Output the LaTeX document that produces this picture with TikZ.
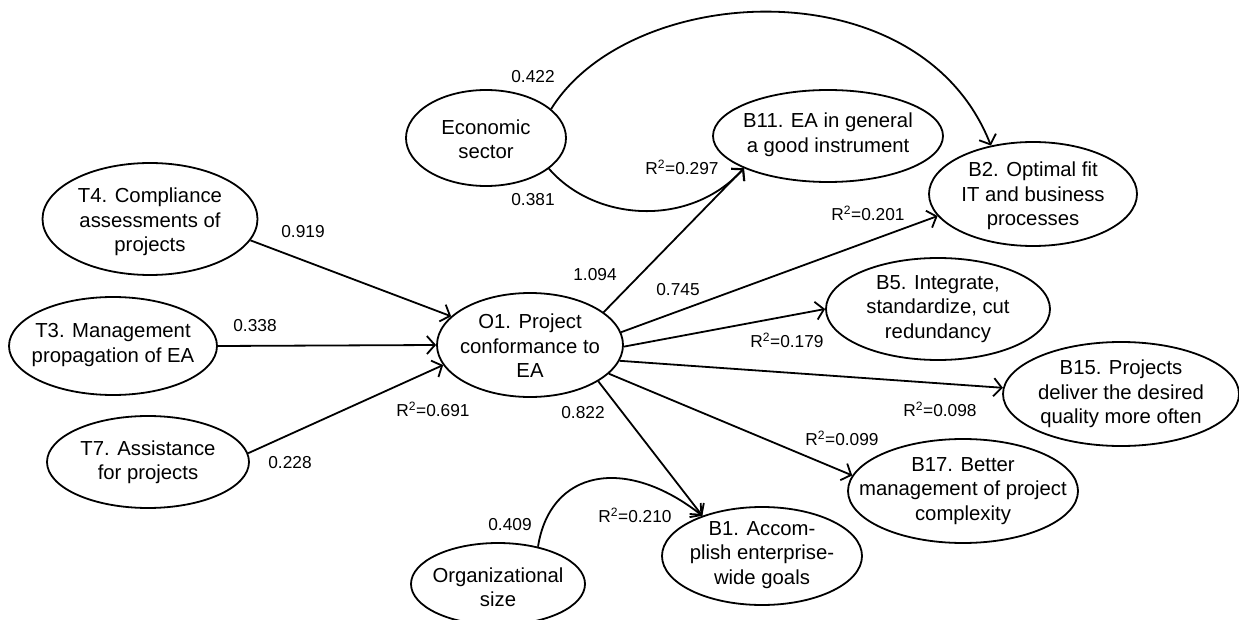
\documentclass[tikz,border=0pt]{standalone}
\usepackage{fontspec}
\setmainfont{Liberation Sans}
\usetikzlibrary{shapes.geometric,arrows.meta}
\newcommand{\ndfont}{\fontsize{20.3}{24.5}\selectfont}
\newcommand{\lbfont}{\fontsize{17.3}{20}\selectfont}
\newcommand{\Rsq}[1]{R\textsuperscript{2}=#1}
\tikzset{
  ell/.style={draw, ellipse, line width=1.8pt, inner sep=0pt},
  txt/.style={font=\ndfont, align=center, inner sep=0pt},
  lbl/.style={font=\lbfont, inner sep=0pt},
  arr/.style={line width=1.8pt, -{Straight Barb[length=8pt,width=18pt]}}
}
\begin{document}
\begin{tikzpicture}[x=1pt,y=-1pt]
\useasboundingbox[fill=white] (0,0) rectangle (1239,620);
% ellipses
\node[ell, minimum width=160pt, minimum height=96pt] (Econ) at (486,138) {};
\node[ell, minimum width=230pt, minimum height=92pt] (B11) at (828,136) {};
\node[ell, minimum width=208pt, minimum height=104pt] (B2) at (1033,194) {};
\node[ell, minimum width=224pt, minimum height=102pt] (B5) at (938,309) {};
\node[ell, minimum width=236pt, minimum height=104pt] (B15) at (1121,394) {};
\node[ell, minimum width=230pt, minimum height=104pt] (B17) at (963,491) {};
\node[ell, minimum width=200pt, minimum height=98pt] (B1) at (762,556) {};
\node[ell, minimum width=174pt, minimum height=82pt] (Org) at (498,584) {};
\node[ell, minimum width=186pt, minimum height=104pt] (O1) at (530,345) {};
\node[ell, minimum width=215pt, minimum height=112pt] (T4) at (150,219) {};
\node[ell, minimum width=208pt, minimum height=98pt] (T3) at (113,346) {};
\node[ell, minimum width=202pt, minimum height=92pt] (T7) at (148,462) {};
% texts
\node[txt] (EconT) at (486,139) {Economic\\sector};
\node[txt] (B11T) at (828,135) {B11. EA in general\\a good instrument};
\node[txt] (B2T) at (1033,196) {B2. Optimal fit\\IT and business\\processes};
\node[txt] (B5T) at (938,309) {B5. Integrate,\\standardize, cut\\redundancy};
\node[txt] (B15T) at (1121,394) {B15. Projects\\deliver the desired\\quality more often};
\node[txt] (B17T) at (963,491) {B17. Better\\management of project\\complexity};
\node[txt] (B1T) at (762,555) {B1. Accom-\\plish enterprise-\\wide goals};
\node[txt] (OrgT) at (498,587) {Organizational\\size};
\node[txt] (O1T) at (530,346) {O1. Project\\conformance to\\EA};
\node[txt] (T4T) at (150,222) {T4. Compliance\\assessments of\\projects};
\node[txt] (T3T) at (113,345) {T3. Management\\propagation of EA};
\node[txt] (T7T) at (148,462) {T7. Assistance\\for projects};
% connectors
\draw[arr] (T4.-12) -- (O1.160);
\draw[arr] (T3.0) -- (O1.180);
\draw[arr] (T7.5) -- (O1.193);
\draw[arr] (O1.24) -- (B11.201);
\draw[arr] (O1.8) -- (B2.193);
\draw[arr] (O1.-1) -- (B5.180);
\draw[arr] (O1.-10) -- (B15.177);
\draw[arr] (O1.-20) -- (B17.172);
\draw[arr] (O1.-28) -- (B1.146);
\draw[arr] (Econ.24) .. controls (630,-18) and (920,-35) .. (B2.131);
\draw[arr] (Econ.-26) .. controls (595,222) and (690,228) .. (B11.201);
\draw[arr] (Org.43) .. controls (550,470) and (625,455) .. (B1.146);
% labels
\node[lbl] (l422) at (533,77) {0.422};
\node[lbl] (l381) at (533,200) {0.381};
\node[lbl] (r297) at (682,167) {\Rsq{0.297}};
\node[lbl] (l1094) at (595,275) {1.094};
\node[lbl] (l745) at (678,290) {0.745};
\node[lbl] (r201) at (868,213) {\Rsq{0.201}};
\node[lbl] (r179) at (787,340) {\Rsq{0.179}};
\node[lbl] (r098) at (940,409) {\Rsq{0.098}};
\node[lbl] (r099) at (842,438) {\Rsq{0.099}};
\node[lbl] (l822) at (583,413) {0.822};
\node[lbl] (r210) at (635,515) {\Rsq{0.210}};
\node[lbl] (l409) at (510,525) {0.409};
\node[lbl] (r691) at (433,409) {\Rsq{0.691}};
\node[lbl] (l919) at (303,232) {0.919};
\node[lbl] (l338) at (255,326) {0.338};
\node[lbl] (l228) at (290,463) {0.228};
\end{tikzpicture}
\end{document}
